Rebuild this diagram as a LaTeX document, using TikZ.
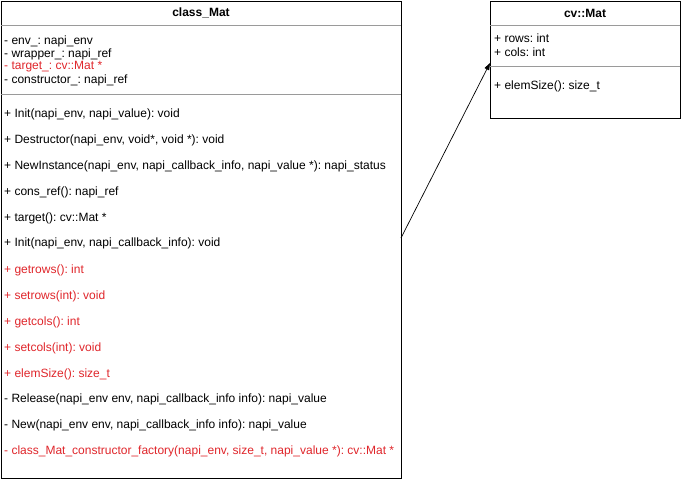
\documentclass[tikz,border=0pt]{standalone}
\usepackage{fontspec}
\setmainfont{Liberation Sans}
\frenchspacing
\usetikzlibrary{arrows.meta}
\definecolor{umlred}{HTML}{E0262B}
\definecolor{sepgray}{HTML}{9A9A9A}
\tikzset{
  x=1pt, y=-1pt,
  umlbox/.style={draw=black, line width=1pt, fill=white},
  sepline/.style={draw=sepgray, line width=0.8pt},
  member/.style={anchor=west, inner sep=0pt, font=\fontsize{12}{14}\selectfont},
  redmember/.style={member, text=umlred},
  titletext/.style={inner sep=0pt, font=\fontsize{12}{14}\selectfont\bfseries},
  assoc/.style={draw=black, line width=0.7pt, -{Triangle[length=7pt,width=5pt]}}
}
\begin{document}
\begin{tikzpicture}
\useasboundingbox (0,0) rectangle (681,479);
% class_Mat
\draw[umlbox] (1,1) rectangle (401,478);
\node[titletext] (t1) at (201,13) {class\_Mat};
\draw[sepline] (1,25.5) -- (401,25.5);
\node[member] (a1) at (4,41) {- env\_: napi\_env};
\node[member] (a2) at (4,54) {- wrapper\_: napi\_ref};
\node[redmember] (a3) at (4,67) {- target\_: cv::Mat *};
\node[member] (a4) at (4,80) {- constructor\_: napi\_ref};
\draw[sepline] (1,94) -- (401,94);
\node[member] (m1) at (4,114) {+ Init(napi\_env, napi\_value): void};
\node[member] (m2) at (4,140) {+ Destructor(napi\_env, void*, void *): void};
\node[member] (m3) at (4,166) {+ NewInstance(napi\_env, napi\_callback\_info, napi\_value *): napi\_status};
\node[member] (m4) at (4,192) {+ cons\_ref(): napi\_ref};
\node[member] (m5) at (4,218) {+ target(): cv::Mat *};
\node[member] (m6) at (4,243) {+ Init(napi\_env, napi\_callback\_info): void};
\node[redmember] (m7) at (4,270) {+ getrows(): int};
\node[redmember] (m8) at (4,296) {+ setrows(int): void};
\node[redmember] (m9) at (4,322) {+ getcols(): int};
\node[redmember] (m10) at (4,348) {+ setcols(int): void};
\node[redmember] (m11) at (4,374) {+ elemSize(): size\_t};
\node[member] (m12) at (4,399) {- Release(napi\_env env, napi\_callback\_info info): napi\_value};
\node[member] (m13) at (4,425) {- New(napi\_env env, napi\_callback\_info info): napi\_value};
\node[redmember] (m14) at (4,451) {- class\_Mat\_constructor\_factory(napi\_env, size\_t, napi\_value *): cv::Mat *};
% cv::Mat
\draw[umlbox] (490,1) rectangle (680,118);
\node[titletext] (t2) at (585,13) {cv::Mat};
\draw[sepline] (490,25.5) -- (680,25.5);
\node[member] (b1) at (494,38) {+ rows: int};
\node[member] (b2) at (494,52) {+ cols: int};
\draw[sepline] (490,66) -- (680,66);
\node[member] (b3) at (494,86) {+ elemSize(): size\_t};
% association
\coordinate (src) at (401,238);
\coordinate (dst) at (490,63);
\draw[assoc] (src) -- (dst);
\end{tikzpicture}
\end{document}
